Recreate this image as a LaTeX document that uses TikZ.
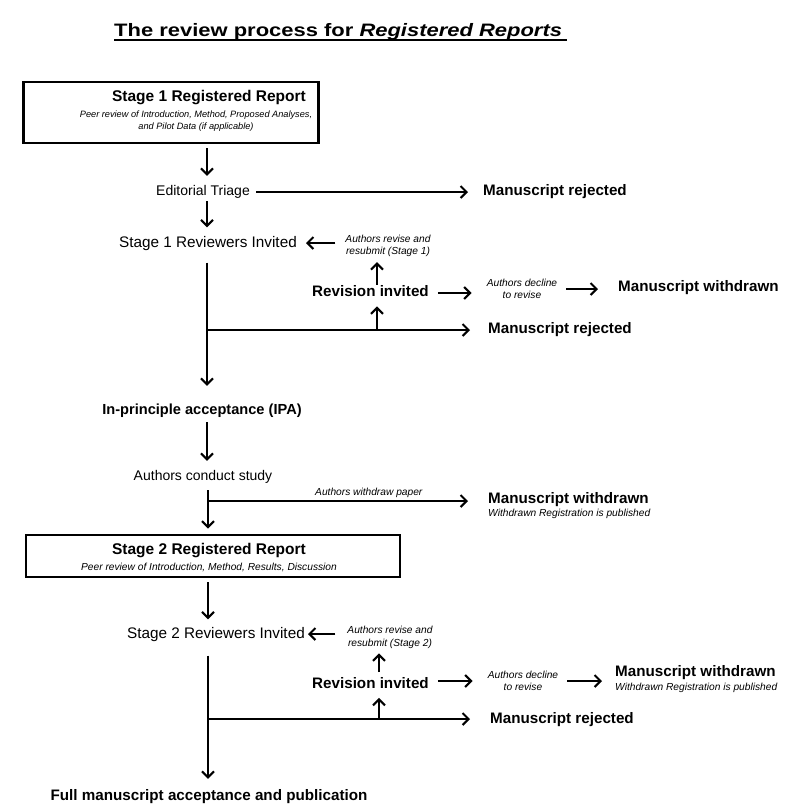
\documentclass[tikz,border=0pt]{standalone}
\usepackage{fontspec}
\setmainfont{Liberation Sans}
\newfontfamily\titlefont[FakeStretch=1.22]{Liberation Sans}
\usetikzlibrary{arrows.meta}
\begin{document}
\begin{tikzpicture}[x=1pt,y=-1pt,
  every node/.style={inner sep=0pt, text=black},
  reg/.style={font=\fontsize{14}{16}\selectfont, text height=10pt, text depth=3pt},
  regl/.style={font=\fontsize{15.3}{18}\selectfont, text height=11pt, text depth=3pt},
  bld/.style={font=\fontsize{15.2}{18}\bfseries\selectfont, text height=11pt, text depth=3.2pt},
  sml/.style={font=\fontsize{10.2}{12.5}\itshape\selectfont, align=center},
  boxst/.style={draw, line width=2.6pt},
  arr/.style={line width=2.1pt, -{Straight Barb[length=6pt,width=12pt]}},
]
\useasboundingbox (0,0) rectangle (790,812);

% title
\node[anchor=base west, font=\titlefont\fontsize{18}{20}\bfseries\selectfont] (title) at (114,36.7)
  {The review process for \textit{Registered Reports}};
\draw[line width=1.8pt] ([yshift=-3pt]title.base west) -- ([yshift=-3pt,xshift=5pt]title.base east);

% stage 1 box
\node[boxst, minimum width=295pt, minimum height=61pt] (box1) at (171,112.5) {};
\node[bld, font=\fontsize{15.5}{18}\bfseries\selectfont] (s1t) at (209,98) {Stage 1 Registered Report};
\node[sml, font=\fontsize{9.2}{12.5}\itshape\selectfont] (s1d) at (196,121) {Peer review of Introduction, Method, Proposed Analyses,\\and Pilot Data (if applicable)};

\node[reg] (triage) at (203,192) {Editorial Triage};
\node[bld, anchor=west] (rej1) at (483,192) {Manuscript rejected};
\node[regl, anchor=east] (rev1) at (297,243) {Stage 1 Reviewers Invited};
\node[sml] (ars1) at (388,246) {Authors revise and\\resubmit (Stage 1)};
\node[bld, anchor=west] (revinv1) at (312,293) {Revision invited};
\node[sml] (dec1) at (522,289) {Authors decline\\to revise};
\node[bld, anchor=west] (wd1) at (618,288) {Manuscript withdrawn};
\node[bld, anchor=west] (rej2) at (488,330) {Manuscript rejected};
\node[bld, font=\fontsize{14.6}{18}\bfseries\selectfont] (ipa) at (202,411) {In-principle acceptance (IPA)};
\node[reg] (conduct) at (203,477) {Authors conduct study};
\node[sml, anchor=west] (wdp) at (315,493) {Authors withdraw paper};
\node[bld, anchor=west] (wd2) at (488,500) {Manuscript withdrawn};
\node[sml, anchor=west] (wd2s) at (488,514) {Withdrawn Registration is published};

% stage 2 box
\node[boxst, minimum width=374pt, minimum height=42pt] (box2) at (213,556) {};
\node[bld, font=\fontsize{15.5}{18}\bfseries\selectfont] (s2t) at (209,551) {Stage 2 Registered Report};
\node[sml] (s2d) at (209,567) {Peer review of Introduction, Method, Results, Discussion};

\node[regl, anchor=east] (rev2) at (305,634) {Stage 2 Reviewers Invited};
\node[sml] (ars2) at (390,637.5) {Authors revise and\\resubmit (Stage 2)};
\node[bld, anchor=west] (revinv2) at (312,685) {Revision invited};
\node[sml] (dec2) at (523,681) {Authors decline\\to revise};
\node[bld, anchor=west] (wd3) at (615,673) {Manuscript withdrawn};
\node[sml, anchor=west] (wd3s) at (615,688) {Withdrawn Registration is published};
\node[bld, anchor=west] (rej3) at (490,720) {Manuscript rejected};
\node[bld] (final) at (209,797) {Full manuscript acceptance and publication};

% axis and branch points
\coordinate (ax1) at (207,0);
\coordinate (ax2) at (208,0);
\coordinate (br1) at (207,330);
\coordinate (up1) at (377,330);
\coordinate (br2) at (208,501);
\coordinate (br3) at (208,719);
\coordinate (up2) at (379,719);

% stage 1 connectors
\draw[arr, shorten <=4pt, shorten >=9.5pt] (box1.south -| ax1) -- (triage.north -| ax1);
\draw[arr, shorten <=6pt, shorten >=15pt] (triage.east) -- (rej1.west);
\draw[arr, shorten <=2.5pt, shorten >=8.5pt] (triage.south -| ax1) -- (rev1.north -| ax1);
\draw[arr, shorten <=10pt, shorten >=9pt] (ars1.west |- rev1.east) -- (rev1.east);
\draw[arr, shorten <=12.5pt, shorten >=17.9pt] (rev1.south -| ax1) -- (ipa.north -| ax1);
\draw[arr, shorten >=18pt] (br1) -- (br1 -| rej2.west);
\draw[arr, shorten >=6pt] (up1) -- (up1 |- revinv1.south);
\draw[arr, shorten <=1pt, shorten >=5pt] (revinv1.north -| up1) -- (ars1.south -| up1);
\draw[arr, shorten <=9pt, shorten >=15pt] (revinv1.east) -- (revinv1.east -| dec1.west);
\draw[arr, shorten <=9pt, shorten >=20pt] (dec1.east) -- (dec1.east -| wd1.west);

% middle
\draw[arr, shorten <=3.9pt, shorten >=9.5pt] (ipa.south -| ax1) -- (conduct.north -| ax1);
\draw[arr, shorten <=6.5pt, shorten >=5pt] (conduct.south -| ax2) -- (box2.north -| ax2);
\draw[arr, shorten >=20pt] (br2) -- (br2 -| wd2.west);

% stage 2 connectors
\draw[arr, shorten <=4pt, shorten >=7.5pt] (box2.south -| ax2) -- (rev2.north -| ax2);
\draw[arr, shorten <=12pt, shorten >=3pt] (ars2.west |- rev2.east) -- (rev2.east);
\draw[arr, shorten <=14.5pt, shorten >=10.9pt] (rev2.south -| ax2) -- (final.north -| ax2);
\draw[arr, shorten >=20pt] (br3) -- (br3 -| rej3.west);
\draw[arr, shorten >=5.5pt] (up2) -- (up2 |- revinv2.south);
\draw[arr, shorten <=5.5pt, shorten >=4.6pt] (revinv2.north -| up2) -- (ars2.south -| up2);
\draw[arr, shorten <=9pt, shorten >=15pt] (revinv2.east |- dec2.west) -- (dec2.west);
\draw[arr, shorten <=9pt, shorten >=13pt] (dec2.east) -- (dec2.east -| wd3.west);
\end{tikzpicture}
\end{document}
